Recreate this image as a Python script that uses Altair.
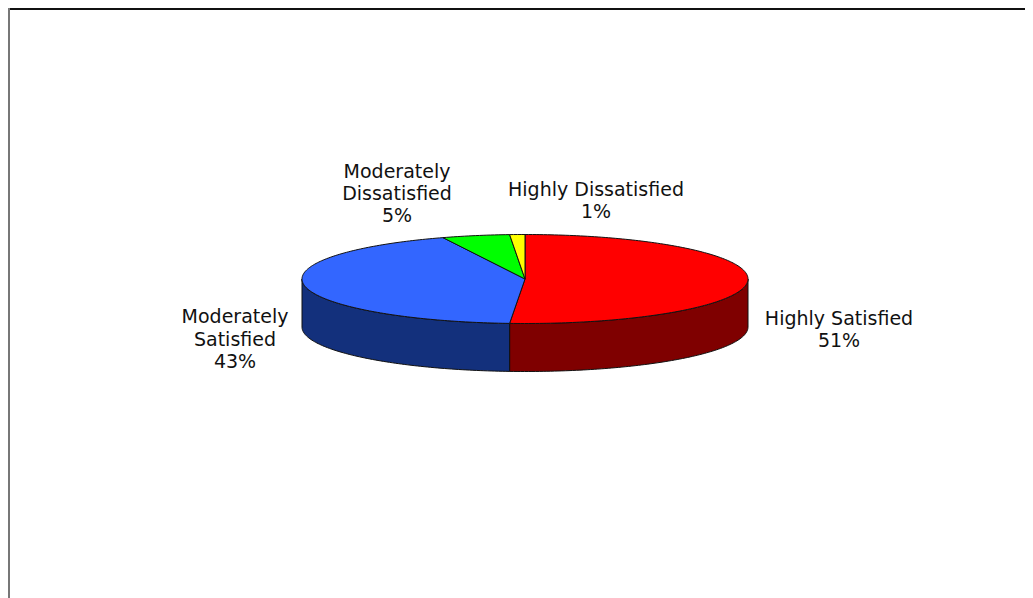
import math
import altair as alt
import pandas as pd

# Values
categories = ["Highly Satisfied", "Moderately Satisfied", "Moderately Dissatisfied", "Highly Dissatisfied"]
shares = [51.1, 42.9, 4.9, 1.1]
top_colors = ["#ff0000", "#3366ff", "#00ff00", "#ffff00"]
wall_colors = ["#7f0000", "#13307c", "#007f00", "#7f7f00"]
label_lines = ["Moderately", "Dissatisfied", "5%", "Highly Dissatisfied", "1%",
               "Highly Satisfied", "51%", "Moderately", "Satisfied", "43%"]
label_x = [389, 389, 389, 588, 588, 831, 831, 227, 227, 227]
label_y = [164, 186, 208, 182, 204, 311, 333, 309, 332, 354]

W, H = 1017, 590
UNIT = 223.0
CX, CY = 517.0, 271.0
ASPECT = 44.5 / 223.0
DEPTH = 48.0 / 223.0

x_scale = alt.Scale(domain=[-CX / UNIT, (W - CX) / UNIT], range=[0, W], nice=False, zero=False)
y_scale = alt.Scale(domain=[-(H - CY) / UNIT, CY / UNIT], range=[H, 0], nice=False, zero=False)


def pt(a):
    return math.sin(a), math.cos(a) * ASPECT


def arc(a0, a1):
    n = max(2, int(abs(a1 - a0) * 60))
    return [pt(a0 + (a1 - a0) * i / n) for i in range(n + 1)]


def shape(points, color, width=1.0):
    df = pd.DataFrame(points, columns=["x", "y"])
    df["seq"] = range(len(df))
    return alt.Chart(df).mark_line(fill=color, stroke="#111111", strokeWidth=width, interpolate="linear").encode(
        x=alt.X("x:Q", scale=x_scale, axis=None),
        y=alt.Y("y:Q", scale=y_scale, axis=None),
        order="seq:O",
    )


layers = []
tops = []
start = 0.0
total = sum(shares)
for share, top, wall in zip(shares, top_colors, wall_colors):
    a0 = start
    a1 = start + share / total * 2 * math.pi
    edge = arc(a0, a1)
    tops.append(shape([(0.0, 0.0)] + edge + [(0.0, 0.0)], top))
    # the wall shows only on the front half of the rim
    w0, w1 = max(a0, math.pi / 2), min(a1, 3 * math.pi / 2)
    if w1 > w0:
        front = arc(w0, w1)
        lower = [(x, y - DEPTH) for x, y in reversed(front)]
        layers.append(shape(front + lower + [front[0]], wall))
    start = a1

labels = pd.DataFrame({"t": label_lines, "px": label_x, "py": label_y})
text = alt.Chart(labels).mark_text(
    font="DejaVu Sans", fontSize=19, color="#111111", align="center", baseline="middle"
).encode(
    x=alt.X("px:Q", scale=None, axis=None),
    y=alt.Y("py:Q", scale=None, axis=None),
    text="t:N",
)

frame_df = pd.DataFrame({"a": [0]})
frame_top = alt.Chart(frame_df).mark_rule(color="#111111", strokeWidth=2).encode(
    x=alt.value(0), x2=alt.value(W), y=alt.value(1)
)
frame_left = alt.Chart(frame_df).mark_rule(color="#777777", strokeWidth=2).encode(
    x=alt.value(1), y=alt.value(0), y2=alt.value(H)
)

chart = alt.layer(frame_top, frame_left, *layers, *tops, text).resolve_scale(
    x="independent", y="independent"
).properties(
    width=W, height=H, padding=0, autosize=alt.AutoSizeParams(type="none"), background="white"
).configure_view(stroke=None)

chart.save("out.html", embed_options={"renderer": "svg", "actions": False})
